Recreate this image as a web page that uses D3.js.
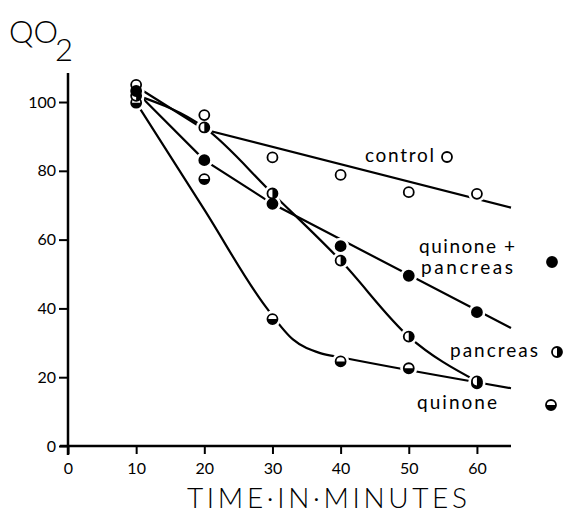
<!DOCTYPE html>
<html>
<head>
<meta charset="utf-8">
<script src="https://d3js.org/d3.v7.min.js"></script>
<style>
  body { margin: 0; background: #fff; }
  text { font-family: Lato, "Noto Sans", sans-serif; fill: #000; }
</style>
</head>
<body>
<script type="text/javascript">
// time axis (minutes)
var times = [10, 20, 30, 40, 50, 60];

var control         = [105, 96.2, 83.9, 78.8, 73.8, 73.3];
var quinonePancreas = [103.2, 83.1, 70.4, 58.1, 49.5, 38.9];
var pancreas        = [101.8, 92.6, 73.4, 53.9, 31.8, 18.8];
var quinone         = [99.8, 77.6, 36.9, 24.6, 22.6, 18.2];

// hand drawn curves through the points
var controlFit         = [[10, 104.5], [20, 92], [65, 69.3]];
var quinonePancreasFit = [[10, 103], [20, 83.1], [30, 70.4], [65, 34.3]];
var pancreasFit        = [[10, 102], [20, 92.6], [30, 73.4], [40, 53.9], [50, 31.8], [60, 18.8]];
var quinoneFit         = [[10, 99.8], [20, 68.7], [29, 40.5], [33, 31], [37, 27], [40, 25.8], [65, 16.8]];

var xTicks = [0, 10, 20, 30, 40, 50, 60];
var yTicks = [0, 20, 40, 60, 80, 100];

var width = 563, height = 516;

var svg = d3.select("body")
  .append("svg")
  .attr("width", width)
  .attr("height", height);

var x = d3.scaleLinear().domain([0, 65]).range([68, 511]);
var y = d3.scaleLinear().domain([0, 108]).range([446, 74.5]);

// axes
svg.append("g")
  .attr("transform", "translate(0,446)")
  .call(d3.axisBottom(x).tickValues(xTicks).tickSize(8).tickPadding(9))
  .call(function(g) {
    g.select(".domain").attr("stroke-width", 2.5).attr("d", "M60,0H511");
    g.selectAll(".tick line").attr("stroke-width", 2);
    g.selectAll("text").attr("font-size", 16).attr("font-family", "Lato, sans-serif").attr("fill", "#000");
  });

svg.append("g")
  .attr("transform", "translate(68,0)")
  .call(d3.axisLeft(y).tickValues(yTicks).tickSize(9).tickPadding(3))
  .call(function(g) {
    g.select(".domain").attr("stroke-width", 2.5).attr("d", "M0,73V455");
    g.selectAll(".tick line").attr("stroke-width", 2);
    g.selectAll("text").attr("font-size", 16).attr("font-family", "Lato, sans-serif").attr("fill", "#000");
  });

// axis titles
var qo = svg.append("text")
  .attr("x", 9)
  .attr("y", 43)
  .attr("font-size", 31)
  .attr("font-weight", 300);
qo.append("tspan").text("QO");
qo.append("tspan").attr("dy", 18).attr("dx", -3).text("2");

svg.append("text")
  .attr("x", 187)
  .attr("y", 508)
  .attr("font-size", 28)
  .attr("font-weight", 300)
  .attr("textLength", 280)
  .attr("lengthAdjust", "spacing")
  .text("TIME\u00B7IN\u00B7MINUTES");

// fitted lines
var line = d3.line()
  .x(function(d) { return x(d[0]); })
  .y(function(d) { return y(d[1]); });

var fits = [
  { pts: controlFit, curve: d3.curveLinear },
  { pts: quinonePancreasFit, curve: d3.curveLinear },
  { pts: pancreasFit, curve: d3.curveMonotoneX },
  { pts: quinoneFit, curve: d3.curveMonotoneX }
];

fits.forEach(function(f) {
  svg.append("path")
    .attr("d", line.curve(f.curve)(f.pts))
    .attr("fill", "none")
    .attr("stroke", "#000")
    .attr("stroke-width", 2.2);
});

// markers
var r = 5;

function marker(g, kind, cx, cy) {
  g.append("circle")
    .attr("cx", cx).attr("cy", cy).attr("r", r)
    .attr("fill", kind === "filled" ? "#000" : "#fff")
    .attr("stroke", "#000")
    .attr("stroke-width", 1.8);
  if (kind === "bottom") {
    g.append("path")
      .attr("d", "M" + (cx - r) + "," + cy + "A" + r + "," + r + " 0 0,0 " + (cx + r) + "," + cy + "Z")
      .attr("fill", "#000");
  }
  if (kind === "right") {
    g.append("path")
      .attr("d", "M" + cx + "," + (cy - r) + "A" + r + "," + r + " 0 0,1 " + cx + "," + (cy + r) + "Z")
      .attr("fill", "#000");
  }
}

var series = [
  { values: control, kind: "open" },
  { values: quinone, kind: "bottom" },
  { values: pancreas, kind: "right" },
  { values: quinonePancreas, kind: "filled" }
];

// white halo so the lines stop short of each point
var halo = svg.append("g");
var dots = svg.append("g");
series.forEach(function(s) {
  s.values.forEach(function(v, i) {
    halo.append("circle")
      .attr("cx", x(times[i])).attr("cy", y(v)).attr("r", r + 3.5)
      .attr("fill", "#fff");
  });
});
series.forEach(function(s) {
  s.values.forEach(function(v, i) {
    marker(dots, s.kind, x(times[i]), y(v));
  });
});

// labels with their symbols
var labels = [
  { lines: ["control"], x: 365, y: 162, w: [69], kind: "open", mx: 447, my: 157 },
  { lines: ["quinone +", "pancreas"], x: 419, y: 253, w: [96, 92], kind: "filled", mx: 552, my: 262 },
  { lines: ["pancreas"], x: 450, y: 357, w: [88], kind: "right", mx: 557, my: 352 },
  { lines: ["quinone"], x: 417, y: 409, w: [80], kind: "bottom", mx: 551, my: 405 }
];

labels.forEach(function(l) {
  l.lines.forEach(function(t, i) {
    svg.append("text")
      .attr("x", l.x + (i ? 2 : 0))
      .attr("y", l.y + i * 21)
      .attr("font-size", 19)
      .attr("textLength", l.w[i])
      .attr("lengthAdjust", "spacing")
      .text(t);
  });
  marker(svg, l.kind, l.mx, l.my);
});
</script>
</body>
</html>
